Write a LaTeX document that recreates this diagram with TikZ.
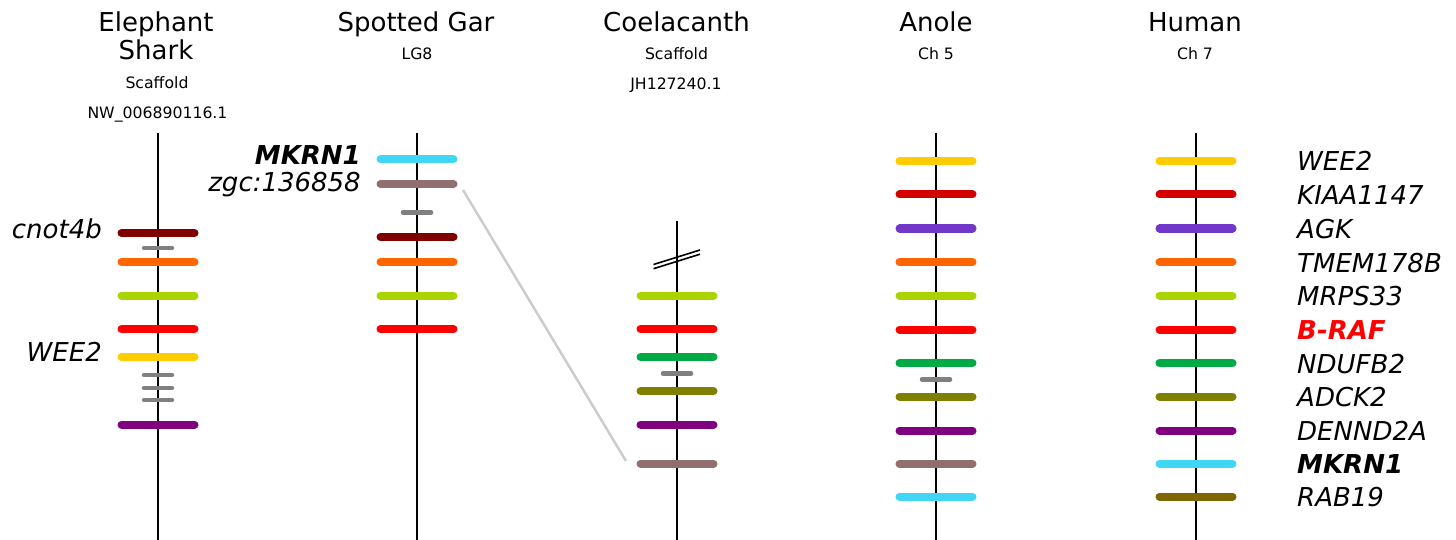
\documentclass[tikz,border=0pt]{standalone}
\usepackage{fontspec}
\setmainfont{DejaVu Sans}
\definecolor{cyellow}{HTML}{FFCC00}
\definecolor{cdred}{HTML}{D40000}
\definecolor{cviolet}{HTML}{7137C8}
\definecolor{corange}{HTML}{FF6600}
\definecolor{clime}{HTML}{AAD400}
\definecolor{cred}{HTML}{FF0000}
\definecolor{cgreen}{HTML}{00AA44}
\definecolor{colive}{HTML}{808000}
\definecolor{cpurple}{HTML}{800080}
\definecolor{cmauve}{HTML}{916F6F}
\definecolor{ccyan}{HTML}{42D6F5}
\definecolor{cbrown}{HTML}{806600}
\definecolor{cmaroon}{HTML}{800000}
\definecolor{cgray}{HTML}{808080}
\definecolor{clink}{HTML}{CCCCCC}
\begin{document}
\begin{tikzpicture}[x=1pt,y=-1pt,
  title/.style={anchor=base,inner sep=0pt,font=\fontsize{26}{30}\selectfont},
  sub/.style={anchor=base,inner sep=0pt,font=\fontsize{15.7}{18}\selectfont},
  gene/.style={anchor=base west,inner sep=0pt,font=\fontsize{26}{30}\selectfont\itshape},
  lgene/.style={anchor=base east,inner sep=0pt,font=\fontsize{26}{30}\selectfont\itshape},
  axisline/.style={line width=2pt,black},
  genebar/.style={line width=8pt,line cap=round},
  minibar/.style={line width=4.5pt,line cap=round,draw=cgray},
  synteny/.style={line width=2.5pt,draw=clink},
  breakmark/.style={line width=1.6pt,black}]
\useasboundingbox (0,0) rectangle (1456,540);

% titles
\node[title] (t1a) at (156,32) {Elephant};
\node[title] (t1b) at (156,60) {Shark};
\node[sub] (t1c) at (157,89) {Scaffold};
\node[sub] (t1d) at (157.5,119) {NW\_006890116.1};
\node[title] (t2a) at (416,32) {Spotted Gar};
\node[sub] (t2b) at (417,60) {LG8};
\node[title] (t3a) at (676.5,32) {Coelacanth};
\node[sub] (t3b) at (676.5,60) {Scaffold};
\node[sub] (t3c) at (676,90) {JH127240.1};
\node[title] (t4a) at (936,32) {Anole};
\node[sub] (t4b) at (936,60) {Ch 5};
\node[title] (t5a) at (1195,32) {Human};
\node[sub] (t5b) at (1195,60) {Ch 7};

% axes
\draw[axisline] (158,133) -- (158,540);
\draw[axisline] (417,133) -- (417,540);
\draw[axisline] (677,221) -- (677,540);
\draw[axisline] (936,133) -- (936,540);
\draw[axisline] (1196,133) -- (1196,540);

% synteny link (drawn under bars)
\coordinate (gzgc) at (463,190);
\coordinate (czgc) at (626,461);
\draw[synteny] (gzgc) -- (czgc);

% Elephant shark
\foreach \y/\c in {233/cmaroon,262/corange,295.5/clime,329/cred,357/cyellow,424.5/cpurple}
  \draw[genebar,draw=\c] (121.5,\y) -- (194.5,\y);
\foreach \y in {248,375,388,400}
  \draw[minibar] (144,\y) -- (172,\y);
\node[lgene] (g1a) at (102,238) {cnot4b};
\node[lgene] (g1b) at (102,361) {WEE2};

% Spotted gar
\foreach \y/\c in {159.5/ccyan,184/cmauve,237/cmaroon,262/corange,295.5/clime,329/cred}
  \draw[genebar,draw=\c] (380.5,\y) -- (453.5,\y);
\draw[minibar] (403,212.5) -- (431,212.5);
\node[lgene,font=\fontsize{26}{30}\selectfont\bfseries\itshape] (g2a) at (361,164.5) {MKRN1};
\node[lgene] (g2b) at (361,191.5) {zgc:136858};

% Coelacanth
\draw[breakmark] (653.5,264.5) -- (700,250);
\draw[breakmark] (653.5,268.7) -- (700,254.2);
\foreach \y/\c in {295.5/clime,329/cred,357/cgreen,391/colive,424.5/cpurple,463.5/cmauve}
  \draw[genebar,draw=\c] (640.5,\y) -- (713.5,\y);
\draw[minibar] (663,373.5) -- (691,373.5);

% Anole
\foreach \y/\c in {161/cyellow,194.5/cdred,228.5/cviolet,262/corange,295.5/clime,329.5/cred,363/cgreen,396.5/colive,430.5/cpurple,463.5/cmauve,496.5/ccyan}
  \draw[genebar,draw=\c] (899.5,\y) -- (972.5,\y);
\draw[minibar] (922,379.5) -- (950,379.5);

% Human
\foreach \y/\c in {161/cyellow,194.5/cdred,228.5/cviolet,262/corange,295.5/clime,329.5/cred,363/cgreen,396.5/colive,430.5/cpurple,463.5/ccyan,496.5/cbrown}
  \draw[genebar,draw=\c] (1159.5,\y) -- (1232.5,\y);

\node[gene] (h1) at (1297,171) {WEE2};
\node[gene] (h2) at (1297,204.5) {KIAA1147};
\node[gene] (h3) at (1297,238.5) {AGK};
\node[gene] (h4) at (1297,272) {TMEM178B};
\node[gene] (h5) at (1297,305.5) {MRPS33};
\node[gene,font=\fontsize{26}{30}\selectfont\bfseries\itshape,text=cred] (h6) at (1297,339.5) {B-RAF};
\node[gene] (h7) at (1297,373) {NDUFB2};
\node[gene] (h8) at (1297,406.5) {ADCK2};
\node[gene] (h9) at (1297,440.5) {DENND2A};
\node[gene,font=\fontsize{26}{30}\selectfont\bfseries\itshape] (h10) at (1297,473.5) {MKRN1};
\node[gene] (h11) at (1297,506.5) {RAB19};
\end{tikzpicture}
\end{document}
